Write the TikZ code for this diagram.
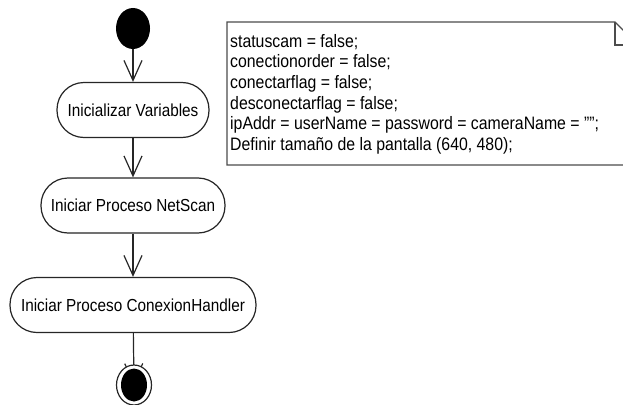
\documentclass[tikz,border=0pt]{standalone}
\usepackage{fontspec}
\setmainfont{Liberation Sans}[FakeStretch=0.88]
\usetikzlibrary{arrows.meta,shapes.geometric,backgrounds}

\begin{document}
\begin{tikzpicture}[
  x=1pt,y=-1pt,
  activity/.style={
    rectangle,
    draw=black!85,
    fill=white,
    rounded corners=27pt,
    line width=1.2pt,
    minimum height=55pt,
    inner sep=0pt,
    font=\fontsize{17.4}{20}\selectfont
  },
  initial/.style={
    ellipse,
    fill=black,
    inner sep=0pt,
    minimum width=34pt,
    minimum height=41pt
  },
  final/.style={
    ellipse,
    draw=black!85,
    fill=white,
    line width=1.2pt,
    inner sep=0pt,
    minimum width=35pt,
    minimum height=40pt
  },
  flow/.style={draw=black!85,line width=1.2pt,-{Straight Barb[length=20pt,width=18pt]}},
  note/.style={draw=black!70,line width=1.3pt,line join=miter}
]
  \useasboundingbox (0,0) rectangle (623,404);

  \node[initial] (start) at (133,28.5) {};
  \node[activity,minimum width=152pt] (init) at (133,110) {Inicializar Variables};
  \node[activity,minimum width=184pt] (netscan) at (133,205.5) {Iniciar Proceso NetScan};
  \node[activity,minimum width=246pt] (handler) at (133,305) {Iniciar Proceso ConexionHandler};
  \node[final] (stop) at (134,385) {};
  \fill[black] (stop.center) ellipse [x radius=13pt,y radius=16.5pt];

  \draw[flow] (start) -- (init);
  \draw[flow] (init) -- (netscan);
  \draw[flow] (netscan) -- (handler);
  \begin{pgfonlayer}{background}
    \draw[flow] (handler) -- (stop.center);
  \end{pgfonlayer}

  % note with the start-up values
  \draw[note] (227,22) -- (615,22) -- (638,45) -- (638,165) -- (227,165) -- cycle;
  \draw[note] (615,22) -- (615,45) -- (638,45);
  \node[anchor=north west,align=left,inner sep=0pt,font=\fontsize{18}{20.6}\selectfont] (vars) at (230,34) {%
    statuscam = false;\\
    conectionorder = false;\\
    conectarflag = false;\\
    desconectarflag = false;\\
    ipAddr = userName = password = cameraName = "";\\
    Definir tamaño de la pantalla (640, 480);};
\end{tikzpicture}
\end{document}
